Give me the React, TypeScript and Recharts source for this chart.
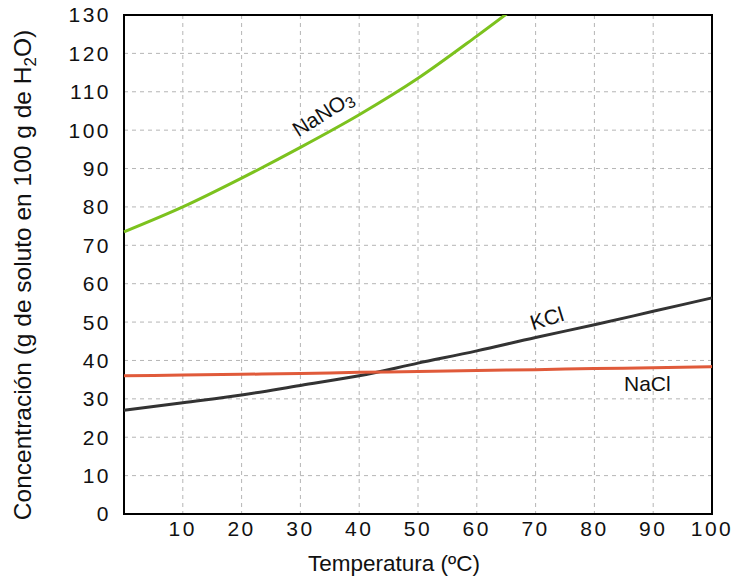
import {
  CartesianGrid,
  Label,
  Line,
  LineChart,
  ReferenceArea,
  ReferenceDot,
  XAxis,
  YAxis,
} from "recharts";

const temps = [0, 10, 20, 30, 40, 50, 60, 70, 80, 90, 100];
const nano3 = [73.5, 80, 87.5, 95.5, 104, 113.5, 124.5, 136, null, null, null];
const kcl = [27, 29, 31, 33.5, 36, 39.3, 42.5, 46, 49.3, 52.8, 56.3];
const nacl = [36, 36.2, 36.4, 36.6, 36.9, 37.1, 37.4, 37.6, 37.9, 38.1, 38.4];

const xTicks = [10, 20, 30, 40, 50, 60, 70, 80, 90, 100];
const yTicks = [0, 10, 20, 30, 40, 50, 60, 70, 80, 90, 100, 110, 120, 130];

const data = temps.map((t, i) => ({
  t,
  nano3: nano3[i],
  kcl: kcl[i],
  nacl: nacl[i],
}));

const FONT = "'Liberation Sans', Arial, sans-serif";
const tickStyle = { fontSize: 21, fill: "#111", fontFamily: FONT, letterSpacing: 2.5 };

// label drawn at a data point, rotated by `angle`
function curveLabel(text: React.ReactNode, angle: number, anchor = "middle") {
  return ({ viewBox }: any) => {
    const cx = viewBox.x + viewBox.width / 2;
    const cy = viewBox.y + viewBox.height / 2;
    return (
      <text
        x={cx}
        y={cy}
        textAnchor={anchor}
        dominantBaseline="central"
        transform={`rotate(${angle}, ${cx}, ${cy})`}
        fontSize={21}
        fontFamily={FONT}
        fill="#111"
      >
        {text}
      </text>
    );
  };
}

export default function App() {
  return (
    <div style={{ position: "absolute", left: 0, top: 0 }}>
      <LineChart
        width={737}
        height={577}
        data={data}
        margin={{ top: 15, right: 25, left: 64, bottom: 33 }}
      >
        <CartesianGrid stroke="#b5b5b5" strokeDasharray="4 4" />
        <XAxis
          dataKey="t"
          type="number"
          domain={[0, 100]}
          ticks={xTicks}
          axisLine={false}
          tickLine={false}
          tickSize={0}
          tickMargin={7}
          height={30}
          tick={tickStyle}
        >
          <Label
            content={() => (
              <text
                x={394}
                y={571}
                textAnchor="middle"
                fontSize={22.5}
                fontFamily={FONT}
                fill="#111"
              >
                Temperatura (ºC)
              </text>
            )}
          />
        </XAxis>
        <YAxis
          type="number"
          domain={[0, 130]}
          allowDataOverflow
          ticks={yTicks}
          axisLine={false}
          tickLine={false}
          tickSize={0}
          tickMargin={13}
          width={60}
          tick={tickStyle}
        >
          <Label
            content={() => (
              <text
                x={31}
                y={275}
                textAnchor="middle"
                transform="rotate(-90, 31, 275)"
                fontSize={24.5}
                fontFamily={FONT}
                fill="#111"
              >
                Concentración (g de soluto en 100 g de H
                <tspan fontSize={17} dy={5}>2</tspan>
                <tspan dy={-5}>O)</tspan>
              </text>
            )}
          />
        </YAxis>
        <Line
          dataKey="nano3"
          type="monotone"
          stroke="#7cc21e"
          strokeWidth={3}
          dot={false}
          isAnimationActive={false}
        />
        <Line
          dataKey="kcl"
          type="monotone"
          stroke="#333333"
          strokeWidth={3}
          dot={false}
          isAnimationActive={false}
        />
        <Line
          dataKey="nacl"
          type="monotone"
          stroke="#e05a3a"
          strokeWidth={3}
          dot={false}
          isAnimationActive={false}
        />
        <ReferenceArea
          x1={0}
          x2={100}
          y1={0}
          y2={130}
          fill="none"
          stroke="#000"
          strokeWidth={2}
        />
        <ReferenceDot
          x={33.8}
          y={104.4}
          r={1}
          fill="none"
          stroke="none"
          label={{
            content: curveLabel(
              <>
                NaNO<tspan fontSize={16} dy={5}>3</tspan>
              </>,
              -32
            ),
          }}
        />
        <ReferenceDot
          x={71.9}
          y={51}
          r={1}
          fill="none"
          stroke="none"
          label={{ content: curveLabel("KCl", -17) }}
        />
        <ReferenceDot
          x={89}
          y={33.9}
          r={1}
          fill="none"
          stroke="none"
          label={{ content: curveLabel("NaCl", 0) }}
        />
      </LineChart>
    </div>
  );
}
